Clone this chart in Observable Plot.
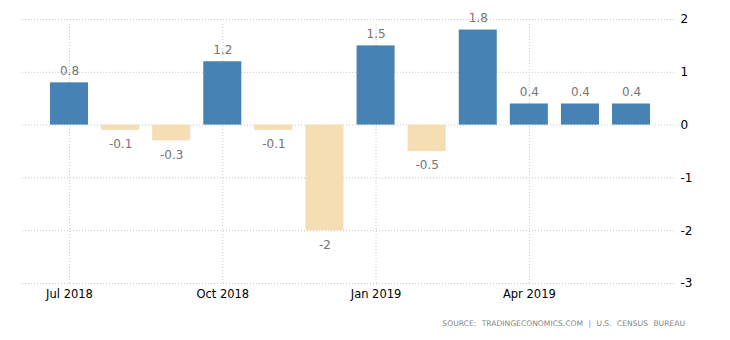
<!DOCTYPE html>
<html>
<head>
<meta charset="utf-8">
<script src="https://cdn.jsdelivr.net/npm/d3@7"></script>
<script src="https://cdn.jsdelivr.net/npm/@observablehq/plot@0.6"></script>
<style>
  html, body { margin: 0; padding: 0; background: #fff; }
  #wrap { position: relative; width: 730px; height: 340px; }
  #caption { position: absolute; right: 45px; top: 319px; white-space: nowrap;
    font-family: "DejaVu Sans", sans-serif; font-size: 7.6px; color: #858585; letter-spacing: 0px; word-spacing: 3px; }
</style>
</head>
<body>
<div id="wrap">
  <div id="chart"></div>
  <div id="caption">SOURCE: TRADINGECONOMICS.COM | U.S. CENSUS BUREAU</div>
</div>
<script>
const months = ["Jul 2018","Aug 2018","Sep 2018","Oct 2018","Nov 2018","Dec 2018","Jan 2019","Feb 2019","Mar 2019","Apr 2019","May 2019","Jun 2019"];
const values = [0.8, -0.1, -0.3, 1.2, -0.1, -2, 1.5, -0.5, 1.8, 0.4, 0.4, 0.4];
const yTicks = [2, 1, 0, -1, -2, -3];
const xTickLabels = ["Jul 2018", "Oct 2018", "Jan 2019", "Apr 2019"];

const data = months.map((m, i) => ({ i, month: m, value: values[i] }));
const xTicks = xTickLabels.map(l => months.indexOf(l));
const half = 0.372;
const grid = "#c8c8c8";

const chart = Plot.plot({
  width: 730,
  height: 312,
  marginLeft: 22,
  marginRight: 54,
  marginTop: 19,
  marginBottom: 29,
  style: { fontFamily: "DejaVu Sans, sans-serif", background: "#fff" },
  x: { type: "linear", domain: [-0.92, 11.88], axis: null, label: null },
  y: { domain: [-3, 2], axis: null, label: null },
  marks: [
    Plot.ruleY(yTicks, { stroke: grid, strokeDasharray: "1,2" }),
    Plot.ruleX(xTicks, { y1: -3, y2: 2, stroke: grid, strokeDasharray: "1,2", insetBottom: -4 }),
    Plot.rectY(data, {
      x1: d => d.i - half, x2: d => d.i + half,
      y1: 0, y2: "value",
      fill: d => d.value >= 0 ? "steelblue" : "wheat"
    }),
    Plot.text(data.filter(d => d.value >= 0), {
      x: "i", y: "value", text: d => String(d.value), dy: -12,
      fill: "#757575", fontSize: 12
    }),
    Plot.text(data.filter(d => d.value < 0), {
      x: "i", y: "value", text: d => String(d.value), dy: 14,
      fill: "#757575", fontSize: 12
    }),
    Plot.axisY(yTicks, {
      anchor: "right", tickSize: 0, tickPadding: 4, fontSize: 12,
      tickFormat: d => String(d), fill: "#000", label: null
    }),
    Plot.axisX(xTicks, {
      anchor: "bottom", tickSize: 0, tickPadding: 6, fontSize: 11.5,
      tickFormat: i => months[i], fill: "#000", label: null
    })
  ]
});
document.getElementById("chart").appendChild(chart);
</script>
</body>
</html>
